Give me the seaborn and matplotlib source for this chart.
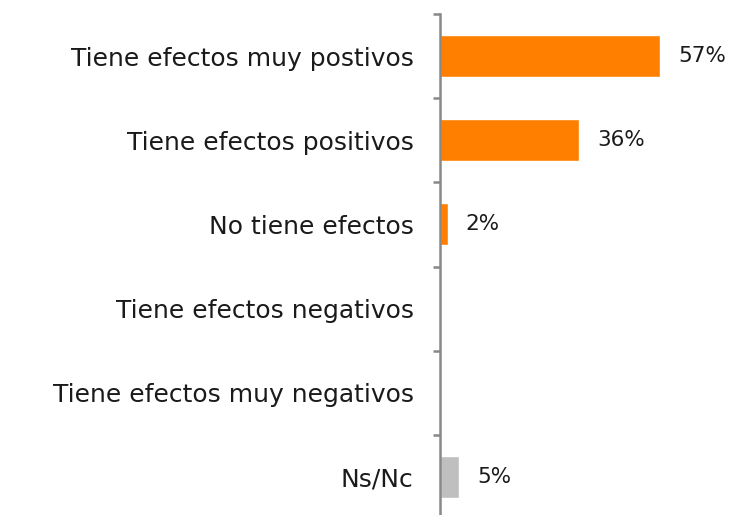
import matplotlib
matplotlib.use("Agg")
import matplotlib.pyplot as plt
import seaborn as sns
import pandas as pd

# data
categorias = ["Tiene efectos muy postivos", "Tiene efectos positivos", "No tiene efectos",
              "Tiene efectos negativos", "Tiene efectos muy negativos", "Ns/Nc"]
valores = [57, 36, 2, 0, 0, 5]
colores = ["#FF7F00", "#FF7F00", "#FF7F00", "#FF7F00", "#FF7F00", "#BFBFBF"]

df = pd.DataFrame({"cat": categorias, "val": valores})

sns.set_style("white")
plt.rcParams["font.family"] = ["DejaVu Sans"]

fig = plt.figure(figsize=(7.31, 5.15), dpi=100)
ax = fig.add_axes([440 / 731, -4 / 515, 291 / 731, 505 / 515])

sns.barplot(data=df, x="val", y="cat", hue="cat", palette=colores, legend=False,
            width=0.5, ax=ax, saturation=1)

for cont, v in zip(ax.containers, valores):
    ax.bar_label(cont, labels=[f"{v}%" if v > 0 else ""], padding=13,
                 fontsize=15.5, color="#1a1a1a")

ax.set_xlim(0, 75.4)
ax.set_ylim(5.5, -0.5)
ax.set_xlabel("")
ax.set_ylabel("")
ax.set_xticks([])

for s in ["top", "right", "bottom"]:
    ax.spines[s].set_visible(False)
ax.spines["left"].set_color("#888888")
ax.spines["left"].set_linewidth(1.8)

ax.set_yticks([i - 0.5 for i in range(7)], minor=True)
ax.tick_params(axis="y", which="minor", length=5, width=1.8, color="#888888", left=True)
ax.tick_params(axis="y", which="major", length=0, pad=19, labelsize=18, labelcolor="#1a1a1a")

fig.savefig("out.png", dpi=100)
